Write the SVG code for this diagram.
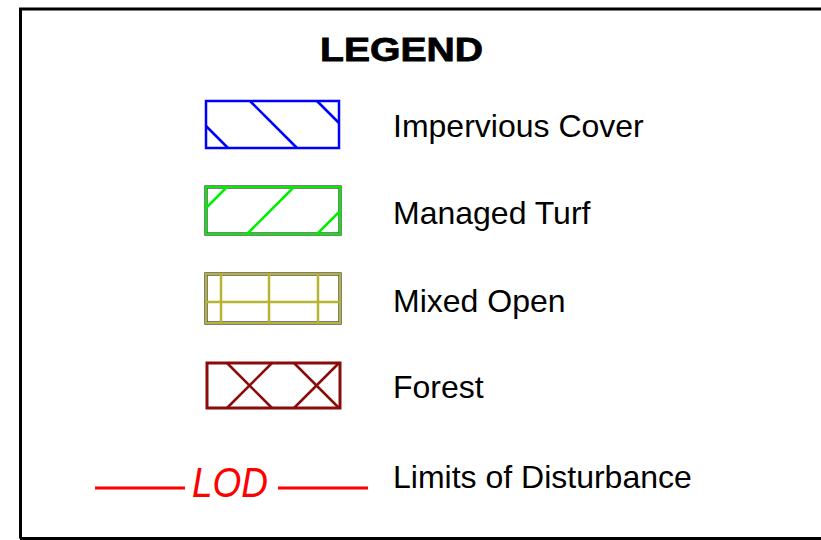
<svg xmlns="http://www.w3.org/2000/svg" width="821" height="540" viewBox="0 0 821 540">
<style>
.lbl{font-family:"Liberation Sans",Arial,sans-serif;font-size:32px;fill:#000}
</style>
<rect x="0" y="0" width="821" height="540" fill="#fff"/>
<g id="frame"><path d="M20.5 538.5 V9 H821" fill="none" stroke="#000" stroke-width="3"/><path d="M20 538.5 H821" stroke="#000" stroke-width="3"/></g>
<g id="title"><text x="320" y="61" font-family="Liberation Sans,Arial,sans-serif" font-weight="bold" font-size="33" stroke="#000" stroke-width="0.8" textLength="163" lengthAdjust="spacingAndGlyphs">LEGEND</text></g>
<g id="impervious">
<rect x="206" y="101" width="133" height="47" fill="#fff" stroke="#0000ff" stroke-width="2.5"/>
<g stroke="#0000ff" stroke-width="2.5"><line x1="250" y1="101" x2="297" y2="148"/><line x1="317" y1="101" x2="339" y2="123"/><line x1="206" y1="126" x2="228" y2="148"/></g>
<text class="lbl" x="393" y="137">Impervious Cover</text>
</g>
<g id="turf">
<rect x="206" y="187" width="134" height="47" fill="#fff" stroke="#555" stroke-width="3.5"/>
<rect x="206" y="187" width="134" height="47" fill="none" stroke="#00ee00" stroke-width="2"/>
<g stroke="#00ee00" stroke-width="2.5"><line x1="227" y1="187" x2="206" y2="208"/><line x1="294" y1="187" x2="247" y2="234"/><line x1="340" y1="211" x2="317" y2="234"/></g>
<text class="lbl" x="393" y="224">Managed Turf</text>
</g>
<g id="mixed">
<rect x="206" y="274" width="134" height="49" fill="#fff" stroke="#555" stroke-width="3.5"/>
<rect x="206" y="274" width="134" height="49" fill="none" stroke="#b5b530" stroke-width="2"/>
<g stroke="#b5b530" stroke-width="2.5"><line x1="221" y1="274" x2="221" y2="323"/><line x1="269" y1="274" x2="269" y2="323"/><line x1="318" y1="274" x2="318" y2="323"/><line x1="206" y1="302" x2="340" y2="302"/></g>
<text class="lbl" x="393" y="312">Mixed Open</text>
</g>
<g id="forest">
<rect x="207" y="363" width="133" height="45" fill="#fff" stroke="#8b0a0a" stroke-width="3"/>
<g stroke="#8b0a0a" stroke-width="2.5"><line x1="227" y1="363" x2="272" y2="408"/><line x1="272" y1="363" x2="227" y2="408"/><line x1="294" y1="363" x2="339" y2="408"/><line x1="339" y1="363" x2="294" y2="408"/></g>
<text class="lbl" x="393" y="398">Forest</text>
</g>
<g id="lod">
<g stroke="#ff0000" stroke-width="3"><line x1="95" y1="488" x2="185" y2="488"/><line x1="278" y1="488" x2="368" y2="488"/></g>
<text x="192" y="497" font-family="Liberation Sans,Arial,sans-serif" font-style="italic" font-size="42" fill="#ff0000" textLength="76" lengthAdjust="spacingAndGlyphs">LOD</text>
<text class="lbl" x="393" y="488">Limits of Disturbance</text>
</g>
</svg>
